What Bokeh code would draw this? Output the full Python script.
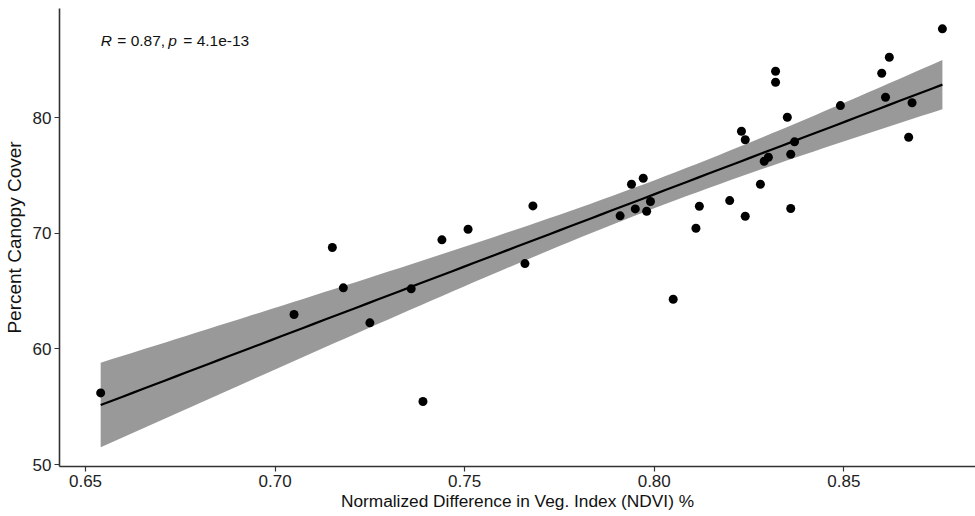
import numpy as np
from bokeh.plotting import figure
from bokeh.models import ColumnDataSource, FixedTicker, Range1d, Label
from bokeh.core.properties import value
from bokeh.embed import file_html
from bokeh.resources import INLINE

# ---- data ----
ndvi = [0.6540, 0.7151, 0.7180, 0.7050, 0.7250, 0.7359, 0.7440, 0.7509, 0.7659, 0.7680,
        0.7910, 0.7940, 0.7971, 0.7950, 0.7980, 0.7990, 0.7390, 0.8110, 0.8050, 0.8760,
        0.8620, 0.8600, 0.8610, 0.8680, 0.8671, 0.8491, 0.8320, 0.8320, 0.8351, 0.8230,
        0.8240, 0.8370, 0.8360, 0.8301, 0.8290, 0.8280, 0.8199, 0.8119, 0.8240, 0.8360]
canopy = [56.20, 68.78, 65.29, 62.98, 62.26, 65.20, 69.44, 70.36, 67.39, 72.38,
          71.52, 74.25, 74.77, 72.12, 71.92, 72.76, 55.45, 70.45, 64.30, 87.70,
          85.24, 83.86, 81.78, 81.30, 78.32, 81.06, 84.03, 83.08, 80.05, 78.84,
          78.10, 77.92, 76.85, 76.59, 76.24, 74.25, 72.84, 72.35, 71.48, 72.15]

x_ticks = [0.65, 0.70, 0.75, 0.80, 0.85]
x_tick_labels = ["0.65", "0.70", "0.75", "0.80", "0.85"]
y_ticks = [50, 60, 70, 80]
y_tick_labels = ["50", "60", "70", "80"]

x_title = "Normalized Difference in Veg. Index (NDVI) %"
y_title = "Percent Canopy Cover"
stat_pieces = ["R", "= 0.87,", "p", "= 4.1e-13"]
stat_italic = [True, False, True, False]

# ---- linear fit with 95% confidence band ----
x = np.array(ndvi)
y = np.array(canopy)
n = len(x)
b1, b0 = np.polyfit(x, y, 1)
resid = y - (b0 + b1 * x)
s = np.sqrt(np.sum(resid ** 2) / (n - 2))
xm = x.mean()
sxx = np.sum((x - xm) ** 2)
t975 = 2.0244  # t quantile, df = 38
xg = np.linspace(x.min(), x.max(), 80)
yg = b0 + b1 * xg
se = s * np.sqrt(1.0 / n + (xg - xm) ** 2 / sxx)
lo = yg - t975 * se
hi = yg + t975 * se

fit_src = ColumnDataSource(dict(x=xg, y=yg, lo=lo, hi=hi))
pts_src = ColumnDataSource(dict(x=ndvi, y=canopy))

p = figure(width=975, height=516, output_backend="svg", toolbar_location=None,
           x_range=Range1d(0.64314, 0.88473), y_range=Range1d(49.83, 89.46),
           min_border_left=59, min_border_right=0, min_border_top=8, min_border_bottom=50)
p.outline_line_color = None
p.grid.visible = False
p.background_fill_color = "white"
p.border_fill_color = "white"

p.varea(x="x", y1="lo", y2="hi", source=fit_src, fill_color="#999999", fill_alpha=1.0)
p.line(x="x", y="y", source=fit_src, line_color="black", line_width=2.2)
p.scatter(x="x", y="y", source=pts_src, size=9, fill_color="black", line_color=None)

for ax, ticks, labels in ((p.xaxis[0], x_ticks, x_tick_labels), (p.yaxis[0], y_ticks, y_tick_labels)):
    ax.ticker = FixedTicker(ticks=ticks)
    ax.major_label_overrides = {t: l for t, l in zip(ticks, labels)}
    ax.minor_tick_line_color = None
    ax.major_tick_out = 5
    ax.major_tick_in = 0
    ax.major_tick_line_color = "#333333"
    ax.major_tick_line_width = 1.2
    ax.axis_line_color = "#333333"
    ax.axis_line_width = 1.6
    ax.major_label_text_font = "Liberation Sans"
    ax.major_label_text_font_size = "17px"
    ax.major_label_text_color = "#222222"
    ax.axis_label_text_font = "Liberation Sans"
    ax.axis_label_text_font_style = "normal"
    ax.axis_label_text_color = "#111111"

p.xaxis[0].axis_label = x_title
p.yaxis[0].axis_label = y_title
p.xaxis[0].axis_label_text_font_size = "17.3px"
p.yaxis[0].axis_label_text_font_size = "19px"
p.xaxis[0].major_label_standoff = 3
p.yaxis[0].major_label_standoff = 3
p.xaxis[0].axis_label_standoff = 1
p.yaxis[0].axis_label_standoff = 5

# stat label, pieces with italic R and p
offsets = [0, 16.6, 67.6, 82.6]
for txt, it, off in zip(stat_pieces, stat_italic, offsets):
    p.add_layout(Label(x=min(ndvi), y=86.7, x_offset=off, text=txt,
                       text_font="Liberation Sans", text_font_size="15.5px",
                       text_font_style="italic" if it else "normal",
                       text_baseline="middle", text_color="#111111"))

open("out.html", "w").write(file_html(p, INLINE))
